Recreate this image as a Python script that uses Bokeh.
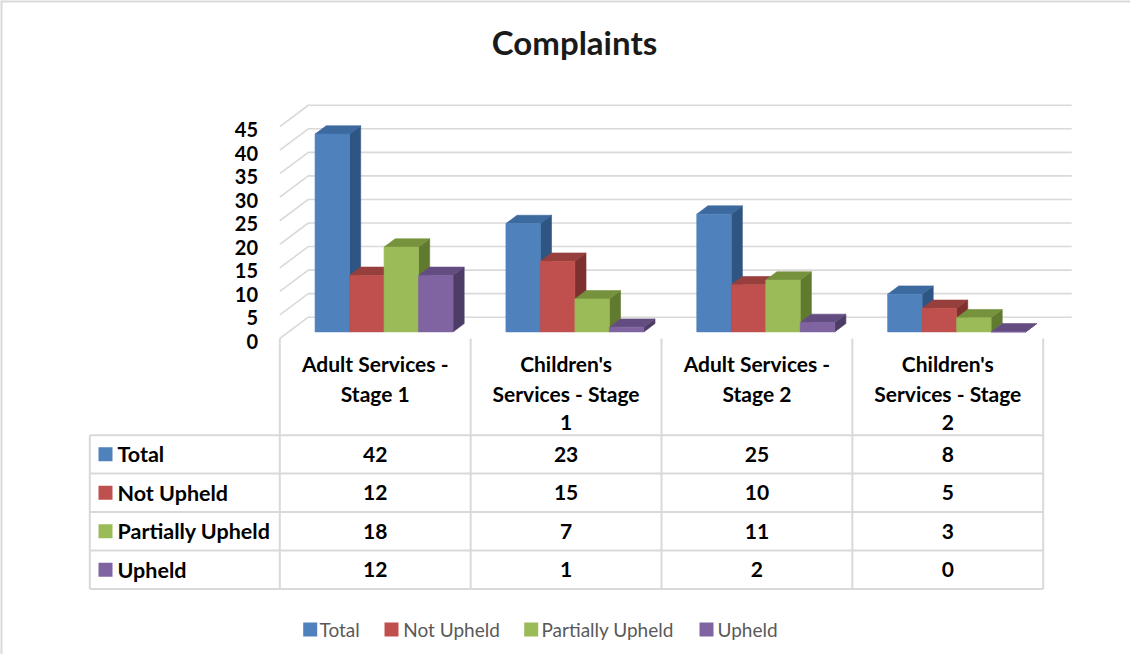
import textwrap
from bokeh.plotting import figure
from bokeh.models import Range1d, ColumnDataSource
from bokeh.core.properties import value
from bokeh.embed import file_html
from bokeh.resources import INLINE

# ---------------- data ----------------
title = "Complaints"
categories = ["Adult Services - Stage 1", "Children's Services - Stage 1",
              "Adult Services - Stage 2", "Children's Services - Stage 2"]
series_names = ["Total", "Not Upheld", "Partially Upheld", "Upheld"]
total = [42, 23, 25, 8]
not_upheld = [12, 15, 10, 5]
partially_upheld = [18, 7, 11, 3]
upheld = [12, 1, 2, 0]
y_ticks = [0, 5, 10, 15, 20, 25, 30, 35, 40, 45]
y_tick_labels = [str(t) for t in y_ticks]

series_values = [total, not_upheld, partially_upheld, upheld]

# ---------------- styles ----------------
front_colors = ["#4F81BD", "#C0504D", "#9BBB59", "#8064A2"]
top_colors = ["#3C6A9E", "#963F3C", "#76923C", "#634D80"]
side_colors = ["#2F5582", "#7D302E", "#607A2F", "#4D3C66"]
GRID = "#D9D9D9"
FONT = value("Lato")

# ---------------- geometry (page pixels -> data units) ----------------
W, H = 1130, 654
MARGIN = 8
COL_PX = 190.85      # pixels per category
UNIT_PX = 4.71       # pixels per value unit
X0_PAGE = 287.3      # page x of category axis start
Y0_PAGE = 346.0      # page y of value 0 (front plane)


def ux(px):
    return (px - X0_PAGE) / COL_PX


def vy(py):
    return (Y0_PAGE - py) / UNIT_PX


DU = 28.5 / COL_PX   # depth vector in data units
DV = 21.3 / UNIT_PX
F0, F1 = 0.31, 0.70  # bar depth extent (fraction of depth)
BAR_W = 34.5 / COL_PX
N_CAT = len(categories)

p = figure(width=W, height=H, output_backend="svg", toolbar_location=None,
           x_range=Range1d(ux(MARGIN), ux(MARGIN + W)),
           y_range=Range1d(vy(MARGIN + H), vy(MARGIN)),
           x_axis_location=None, y_axis_location=None, min_border=0)
p.grid.visible = False
p.outline_line_color = None
p.background_fill_color = "white"
p.border_fill_color = "white"

# chart area border (left and top visible)
p.line([ux(MARGIN), ux(MARGIN)], [vy(MARGIN), vy(MARGIN + H)], line_color=GRID, line_width=4)
p.line([ux(MARGIN), ux(MARGIN + W)], [vy(MARGIN), vy(MARGIN)], line_color=GRID, line_width=4)

# title
p.text(x=[ux(582)], y=[vy(49)], text=[title], text_font=FONT, text_font_style="bold",
       text_font_size="33px", text_color="#1A1A1A", text_align="center",
       text_baseline="middle")

# back wall gridlines and side wall diagonals
for t in y_ticks:
    p.line([0, DU, N_CAT + DU], [t, t + DV, t + DV], line_color=GRID, line_width=1.6)

# y tick labels
p.text(x=[ux(265.5)] * len(y_ticks), y=y_ticks, text=y_tick_labels, text_font=FONT,
       text_font_style="bold", text_font_size="20px", text_color="black",
       text_align="right", text_baseline="middle", y_offset=3)

# ---------------- 3D bars ----------------
sides = dict(xs=[], ys=[], c=[])
tops = dict(xs=[], ys=[], c=[])
fronts = dict(xs=[], ys=[], c=[])
ddu, ddv = (F1 - F0) * DU, (F1 - F0) * DV
for i in range(N_CAT):
    for j, vals in enumerate(series_values):
        xl = i + 0.5 - 2 * BAR_W + j * BAR_W + F0 * DU
        xr = xl + BAR_W
        vb = F0 * DV
        vt = vals[i] + F0 * DV
        sides["xs"].append([xr, xr + ddu, xr + ddu, xr])
        sides["ys"].append([vb, vb + ddv, vt + ddv, vt])
        sides["c"].append(side_colors[j])
        tops["xs"].append([xl, xr, xr + ddu, xl + ddu])
        tops["ys"].append([vt, vt, vt + ddv, vt + ddv])
        tops["c"].append(top_colors[j])
        fronts["xs"].append([xl, xr, xr, xl])
        fronts["ys"].append([vb, vb, vt, vt])
        fronts["c"].append(front_colors[j])

for d in (sides, tops, fronts):
    p.patches("xs", "ys", source=ColumnDataSource(d), fill_color="c", line_color="c",
              line_width=0.6)

# ---------------- data table ----------------
row_lines = [442.7, 481.0, 519.5, 558.0, 596.5]
row_centers = [(a + b) / 2 for a, b in zip(row_lines[:-1], row_lines[1:])]
TABLE_LEFT = ux(97.3)
for ry in row_lines:
    p.line([TABLE_LEFT, N_CAT], [vy(ry), vy(ry)], line_color=GRID, line_width=2)
p.line([TABLE_LEFT, TABLE_LEFT], [vy(row_lines[0]), vy(row_lines[-1])], line_color=GRID, line_width=2)
for k in range(N_CAT + 1):
    p.line([k, k], [0, vy(row_lines[-1])], line_color=GRID, line_width=2)

# header (category labels)
hx, hy, ht = [], [], []
for i, cat in enumerate(categories):
    for k, line in enumerate(textwrap.wrap(cat, 16)):
        hx.append(i + 0.5)
        hy.append(vy(371 + 29.5 * k))
        ht.append(line)
p.text(x=hx, y=hy, text=ht, text_font=FONT, text_font_style="bold", text_font_size="21px",
       text_color="black", text_align="center", text_baseline="middle")

# series rows
p.rect(x=[ux(113)] * 4, y=[vy(r) for r in row_centers], width=14, height=14,
       width_units="screen", height_units="screen", fill_color=front_colors, line_color=None)
p.text(x=[ux(125)] * 4, y=[vy(r) for r in row_centers], text=series_names, text_font=FONT,
       text_font_style="bold", text_font_size="21.5px", text_color="black",
       text_align="left", text_baseline="middle")
vx, vyy, vt_ = [], [], []
for j, vals in enumerate(series_values):
    for i, v in enumerate(vals):
        vx.append(i + 0.5)
        vyy.append(vy(row_centers[j]))
        vt_.append(str(v))
p.text(x=vx, y=vyy, text=vt_, text_font=FONT, text_font_style="bold", text_font_size="21px",
       text_color="black", text_align="center", text_baseline="middle")

# ---------------- legend ----------------
leg_sq = [317.7, 399.0, 538.7, 714.0]
leg_tx = [327.0, 410.7, 549.0, 725.0]
LEG_Y = 637
p.rect(x=[ux(x) for x in leg_sq], y=[vy(LEG_Y)] * 4, width=14, height=14,
       width_units="screen", height_units="screen", fill_color=front_colors, line_color=None)
p.text(x=[ux(x) for x in leg_tx], y=[vy(LEG_Y)] * 4, text=series_names, text_font=FONT,
       text_font_size="19px", text_color="#595959", text_align="left", text_baseline="middle")

open("out.html", "w").write(file_html(p, INLINE))
